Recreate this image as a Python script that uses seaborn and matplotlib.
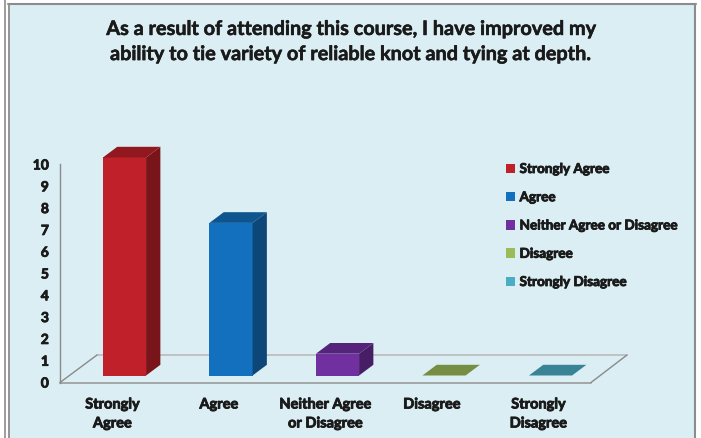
import matplotlib
matplotlib.use("Agg")
import matplotlib.pyplot as plt
import seaborn as sns
import pandas as pd
import numpy as np
from matplotlib.patches import Polygon, Rectangle, Patch
from matplotlib.transforms import offset_copy, blended_transform_factory, ScaledTranslation
from matplotlib.lines import Line2D
import matplotlib.colors as mcolors
import matplotlib.patheffects as pe

# ---- data ----
categories = ["Strongly Agree", "Agree", "Neither Agree or Disagree", "Disagree", "Strongly Disagree"]
tick_labels = ["Strongly\nAgree", "Agree", "Neither Agree\nor Disagree", "Disagree", "Strongly\nDisagree"]
values = [10, 7, 1, 0, 0]
colors = ["#C0202A", "#1370BE", "#7030A0", "#9BBB59", "#4BACC6"]
yticks = list(range(0, 11))
title = "As a result of attending this course, I have improved my\nability to tie variety of reliable knot and tying at depth."

sns.set_theme(style="white")
plt.rcParams['font.family'] = ['Lato', 'DejaVu Sans']

W, H, DPI = 701, 438, 100
fig = plt.figure(figsize=(W / DPI, H / DPI), dpi=DPI, facecolor="white")

def fx(px):
    return px / W

def fy(py):
    return 1 - py / H

# background panel and borders
bg = "#DAEEF3"
fig.patches.append(Rectangle((fx(10), 0), fx(695) - fx(10), fy(4), transform=fig.transFigure,
                             facecolor=bg, edgecolor="none", zorder=-10))
border = "#8C8C8C"
fig.add_artist(Line2D([fx(8), fx(696)], [fy(3.5), fy(3.5)], transform=fig.transFigure, color=border, lw=1.5))
fig.add_artist(Line2D([fx(8.5), fx(8.5)], [0, fy(3.5)], transform=fig.transFigure, color=border, lw=1.3))
fig.add_artist(Line2D([fx(695.3), fx(695.3)], [0, fy(3.5)], transform=fig.transFigure, color=border, lw=1.5))
fig.add_artist(Line2D([fx(4.8), fx(4.8)], [0, 1], transform=fig.transFigure, color=border, lw=1.2))

# axes geometry (pixel based)
ax_l, ax_r, ax_b, ax_t = 60, 640, 382.5, 140
ax = fig.add_axes([fx(ax_l), fy(ax_b), fx(ax_r) - fx(ax_l), fy(ax_t) - fy(ax_b)])
ax.set_facecolor("none")
ax.set_zorder(1)

c0, cstep = 124.5, 106.5      # px of first category centre, px per category
ystep = 21.8                  # px per value unit

def xd(px):
    return (px - c0) / cstep

def yd(py):
    return (ax_b - py) / ystep

df = pd.DataFrame({"cat": categories, "val": values})
sns.barplot(data=df, x="cat", y="val", hue="cat", order=categories, hue_order=categories,
            palette=colors, width=0.405, legend=False, saturation=1, ax=ax, zorder=3,
            edgecolor="none", linewidth=0)

ax.set_xlim(xd(ax_l), xd(ax_r))
ax.set_ylim(0, yd(ax_t))

# floor (decoration)
ax.plot([xd(97), xd(627)], [yd(355), yd(355)], color="#BEBEBE", lw=1.3, clip_on=False, zorder=1)
ax.plot([xd(60), xd(591)], [yd(382.5), yd(382.5)], color="#9A9A9A", lw=1.2, clip_on=False, zorder=1)
ax.plot([xd(60), xd(97)], [yd(382.5), yd(355)], color="#8A8A8A", lw=1.0, clip_on=False, zorder=1)
ax.plot([xd(591), xd(627)], [yd(382.5), yd(355)], color="#8A8A8A", lw=1.0, clip_on=False, zorder=1)

# bars sit a little behind the front edge of the floor
shift = offset_copy(ax.transData, fig=fig, x=0, y=7, units="dots")
ddx, ddy = 14.3 / cstep, 10.7 / ystep

def shade(c, f):
    r, g, b = mcolors.to_rgb(c)
    return (r * f, g * f, b * f)

bars = list(ax.patches)
for p, col in zip(bars, colors):
    p.set_transform(shift)
    x0, w, h = p.get_x(), p.get_width(), p.get_height()
    if h > 0:
        side = Polygon([(x0 + w, 0), (x0 + w + ddx, ddy), (x0 + w + ddx, h + ddy), (x0 + w, h)],
                       closed=True, facecolor=shade(col, 0.63), edgecolor="none", transform=shift, zorder=3)
        ax.add_patch(side)
    top = Polygon([(x0, h), (x0 + ddx, h + ddy), (x0 + w + ddx, h + ddy), (x0 + w, h)],
                  closed=True, facecolor=shade(col, 0.76), edgecolor="none", transform=shift, zorder=3,
                  clip_on=False)
    ax.add_patch(top)

txt = "#1a1a1a"
bold_fx = [pe.withStroke(linewidth=0.6, foreground=txt)]

# y axis
for s in ["top", "right", "bottom"]:
    ax.spines[s].set_visible(False)
ax.spines["left"].set_color("#8A8A8A")
ax.spines["left"].set_linewidth(1.0)
ax.spines["left"].set_bounds(0, 10)
ax.set_yticks(yticks)
ax.set_yticklabels([str(t) for t in yticks], fontweight="bold", fontsize=10, color=txt)
for t in ax.get_yticklabels():
    t.set_path_effects(bold_fx)
ax.tick_params(axis="y", length=0, pad=8)
ax.set_xticks([])
ax.set_xlabel("")
ax.set_ylabel("")

# category labels
lab_tr = blended_transform_factory(ax.transData, ax.transAxes) + ScaledTranslation(-12 / DPI, -15 / DPI, fig.dpi_scale_trans)
for i, lab in enumerate(tick_labels):
    ax.text(i, 0, lab, transform=lab_tr, ha="center", va="top", fontsize=10.5, fontweight="bold",
            color=txt, linespacing=1.45, multialignment="center", clip_on=False,
            path_effects=bold_fx)

# legend
handles = [Patch(facecolor=c, edgecolor="none", label=l) for c, l in zip(colors, categories)]
leg = fig.legend(handles=handles, loc="upper left", bbox_to_anchor=(fx(506), fy(163)), frameon=False,
                 prop={"weight": "bold", "size": 9.75}, handlelength=0.7, handleheight=0.7,
                 handletextpad=0.3, labelspacing=1.2, borderaxespad=0, borderpad=0)
for t in leg.get_texts():
    t.set_color(txt)
    t.set_path_effects(bold_fx)

# title
fig.text(fx(352), fy(41.5), title, ha="center", va="center", fontsize=14.3, fontweight="bold",
         color=txt, linespacing=1.32, path_effects=[pe.withStroke(linewidth=0.4, foreground=txt)])

fig.savefig("out.png", dpi=DPI, facecolor="white")
